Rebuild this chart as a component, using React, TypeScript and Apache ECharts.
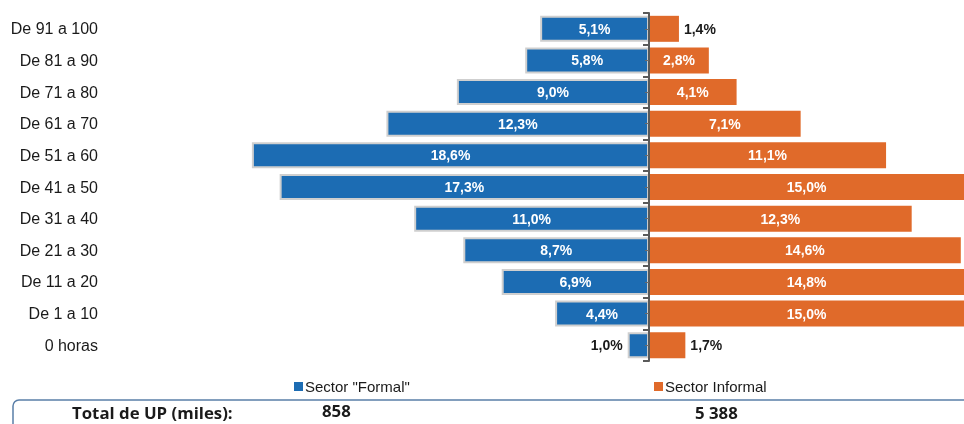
import React, { useEffect, useRef } from "react";
import * as echarts from "echarts";

const categories = ["De 91 a 100", "De 81 a 90", "De 71 a 80", "De 61 a 70", "De 51 a 60", "De 41 a 50", "De 31 a 40", "De 21 a 30", "De 11 a 20", "De 1 a 10", "0 horas"];
const formal = [5.1, 5.8, 9.0, 12.3, 18.6, 17.3, 11.0, 8.7, 6.9, 4.4, 1.0];
const informal = [1.4, 2.8, 4.1, 7.1, 11.1, 15.0, 12.3, 14.6, 14.8, 15.0, 1.7];
const seriesNames = ['Sector "Formal"', "Sector Informal"];
const totalLabel = "Total de UP (miles):";
const totals = ["858", "5 388"];

const BLUE = "#1c6cb3";
const ORANGE = "#e06a2a";

const fmt = (v: number) => Math.abs(v).toFixed(1).replace(".", ",") + "%";

export default function App() {
  const ref = useRef<HTMLDivElement>(null);
  useEffect(() => {
    if (!ref.current) return;
    const chart = echarts.init(ref.current, null, { renderer: "svg" });
    const inLabel = { show: true, position: "inside", color: "#fff", fontWeight: "bold", fontSize: 14, fontFamily: "Liberation Sans, Arial", formatter: (p: any) => fmt(p.value) };
    const formalData = formal.map((v) =>
      v < 2
        ? { value: -v, label: { show: true, position: "left", color: "#1a1a1a", distance: 5 } }
        : { value: -v }
    );
    const informalData = informal.map((v) =>
      v < 2
        ? { value: v, label: { show: true, position: "right", color: "#1a1a1a", distance: 5 } }
        : { value: v }
    );
    const catAxisBase = { type: "category", data: categories, inverse: true, position: "left" };
    const totalFont = "bold 16px 'Open Sans', 'Noto Sans', sans-serif";
    const legendText = { fontSize: 15, color: "#1a1a1a", fontFamily: "Liberation Sans, Arial", padding: [0, 0, 0, -3] };
    chart.setOption({
      animation: false,
      grid: { left: 222, top: 13, height: 348, right: 0, containLabel: false },
      xAxis: { type: "value", min: -20, max: 14.75, show: false },
      yAxis: [
        {
          ...catAxisBase,
          offset: -427,
          axisLine: { show: true, onZero: false, lineStyle: { color: "#5a5a5a", width: 2 } },
          axisTick: { show: true, length: 6, lineStyle: { color: "#5a5a5a", width: 2 } },
          axisLabel: { show: false },
          z: 10,
        },
        {
          ...catAxisBase,
          offset: -427,
          axisLine: { show: false, onZero: false },
          axisTick: { show: true, alignWithLabel: true, length: 4, lineStyle: { color: "#6a6a6a", width: 1 } },
          axisLabel: { show: false },
          z: 10,
        },
        {
          ...catAxisBase,
          offset: 0,
          axisLine: { show: false, onZero: false },
          axisTick: { show: false },
          axisLabel: { show: true, margin: 124, color: "#1a1a1a", fontSize: 16, fontFamily: "Liberation Sans, Arial" },
        },
      ],
      legend: [
        {
          data: [seriesNames[0]],
          left: 289,
          top: 374,
          icon: "rect",
          itemWidth: 9,
          itemHeight: 9,
          itemStyle: { borderWidth: 0 },
          textStyle: legendText,
        },
        {
          data: [seriesNames[1]],
          left: 649,
          top: 374,
          icon: "rect",
          itemWidth: 9,
          itemHeight: 9,
          itemStyle: { borderWidth: 0 },
          textStyle: legendText,
        },
      ],
      series: [
        {
          name: seriesNames[0],
          type: "bar",
          yAxisIndex: 0,
          data: formalData,
          barWidth: 26,
          barGap: "-100%",
          itemStyle: { color: BLUE, borderColor: "#cfcfcf", borderWidth: 2 },
          label: inLabel,
        },
        {
          name: seriesNames[1],
          type: "bar",
          yAxisIndex: 0,
          data: informalData,
          barWidth: 26,
          barGap: "-100%",
          itemStyle: { color: ORANGE },
          label: inLabel,
        },
      ],
      graphic: [
        {
          type: "rect",
          shape: { x: 13, y: 400, width: 980, height: 50, r: 6 },
          style: { fill: "none", stroke: "#5a7fa8", lineWidth: 1.5 },
        },
        {
          type: "text",
          x: 72,
          y: 413,
          scaleX: 1.05,
          style: { text: totalLabel, font: totalFont, fill: "#1a1a1a", verticalAlign: "middle" },
        },
        {
          type: "text",
          x: 322,
          y: 411,
          scaleX: 1.05,
          style: { text: totals[0], font: totalFont, fill: "#1a1a1a", verticalAlign: "middle" },
        },
        {
          type: "text",
          x: 695,
          y: 413,
          scaleX: 1.05,
          style: { text: totals[1], font: totalFont, fill: "#1a1a1a", verticalAlign: "middle" },
        },
      ],
    });
    return () => chart.dispose();
  }, []);
  return <div ref={ref} style={{ position: "fixed", left: 0, top: 0, width: 964, height: 424 }} />;
}
